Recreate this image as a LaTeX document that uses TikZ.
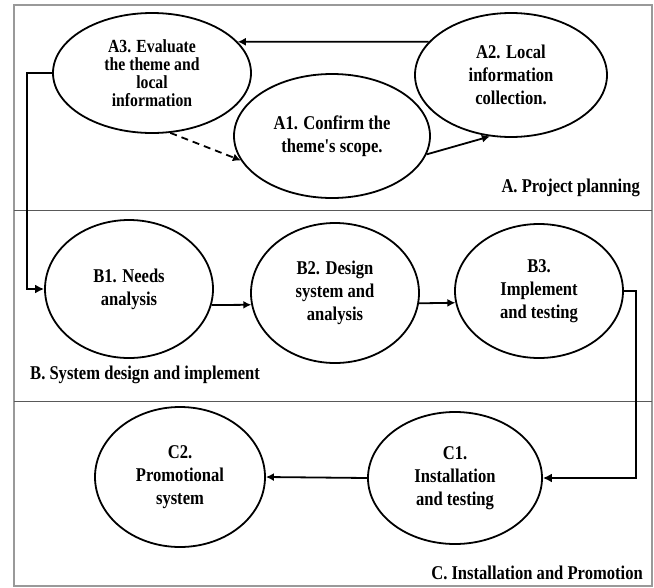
\documentclass[tikz,border=0pt]{standalone}
\usepackage{fontspec}
\setmainfont{Liberation Serif}[Ligatures=TeXOff, FakeStretch=0.85]
\usetikzlibrary{shapes.geometric,arrows.meta}

\tikzset{
  phase/.style={ellipse, draw, line width=1.8pt, inner sep=0pt, align=center,
                font=\bfseries\fontsize{19.5}{23}\selectfont},
  flow/.style={-{Latex[length=8pt,width=8pt]}, line width=1.8pt},
  bigflow/.style={-{Latex[length=9pt,width=9pt]}, line width=2.6pt},
  area/.style={font=\bfseries\fontsize{19.5}{23}\selectfont, inner sep=0pt}
}

\begin{document}
\begin{tikzpicture}[x=1pt,y=-1pt]
\useasboundingbox (0,0) rectangle (654,587);

% frame and bands
\draw[gray!80, line width=1.2pt] (14,5) rectangle (652,586);
\draw[black!65, line width=1pt] (14,210) -- (652,210);
\draw[black!65, line width=1pt] (14,401) -- (652,401);

% A. Project planning
\node[phase, minimum width=198pt, minimum height=120pt,
      font=\bfseries\fontsize{18.5}{18}\selectfont] (A3) at (152,73)
  {A3. Evaluate\\the theme and\\local\\information};
\node[phase, minimum width=196pt, minimum height=124pt] (A1) at (332,136)
  {A1. Confirm the\\theme's scope.};
\node[phase, minimum width=192pt, minimum height=124pt] (A2) at (511,75)
  {A2. Local\\information\\collection.};
\node[area, anchor=east] (labA) at (640,188) {A. Project planning};

\draw[flow] (A2.158) -- (A3.20);
\draw[flow] (A1.-11) -- (A2.-109);
\draw[flow, dashed, dash pattern=on 7pt off 5pt] (A3.-73) -- (A1.-165);

% B. System design
\node[phase, minimum width=168pt, minimum height=138pt] (B1) at (129,289)
  {B1. Needs\\analysis};
\node[phase, minimum width=168pt, minimum height=140pt] (B2) at (335,293)
  {B2. Design\\system and\\analysis};
\node[phase, minimum width=168pt, minimum height=134pt] (B3) at (539,291)
  {B3.\\Implement\\and testing};
\node[area, anchor=west] (labB) at (30,375) {B. System design and implement};

\draw[bigflow] (A3.west) -- ++(-25,0) |- (B1.west);
\draw[flow] (B1.-11) -- (B2.-172);
\draw[flow] (B2.-7) -- (B3.-172);

% C. Installation
\node[phase, minimum width=174pt, minimum height=132pt] (C1) at (455,478)
  {C1.\\Installation\\and testing};
\node[phase, minimum width=170pt, minimum height=140pt] (C2) at (180,477)
  {C2.\\Promotional\\system};
\node[area, anchor=east] (labC) at (643,573) {C. Installation and Promotion};

\draw[bigflow] (B3.east) -- ++(12,0) |- (C1.east);
\draw[flow] (C1.west) -- (C2.east);

\end{tikzpicture}
\end{document}
